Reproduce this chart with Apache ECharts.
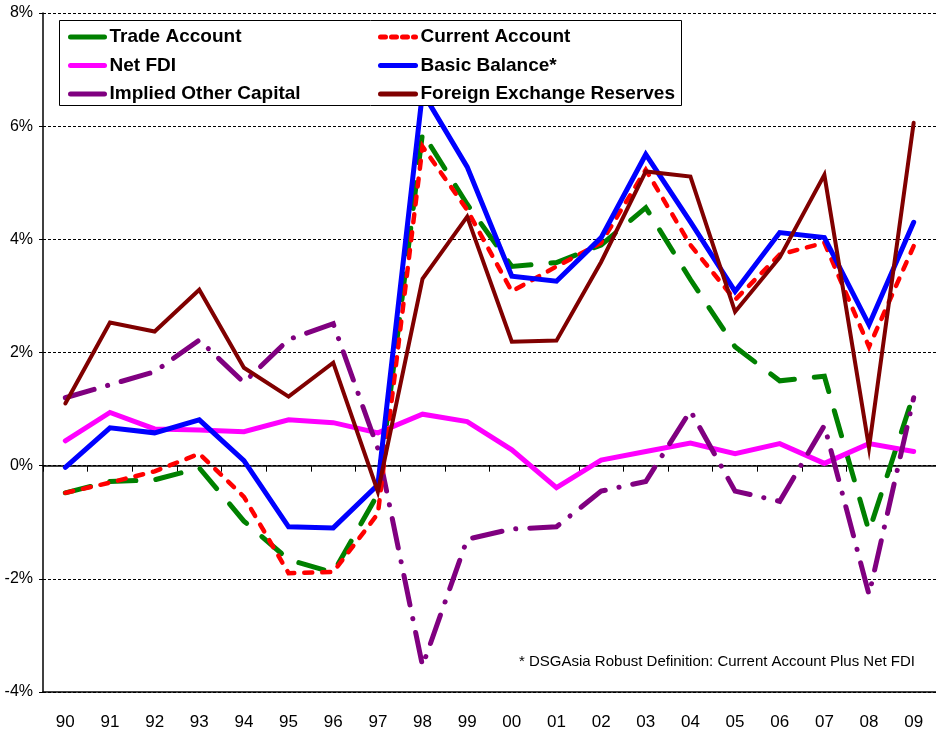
<!DOCTYPE html>
<html>
<head>
<meta charset="utf-8">
<script src="https://cdn.jsdelivr.net/npm/echarts@6/dist/echarts.min.js"></script>
<style>html,body{margin:0;padding:0;background:#fff}#c{width:936px;height:733px}</style>
</head>
<body>
<div id="c"></div>
<script>
const years = ['90','91','92','93','94','95','96','97','98','99','00','01','02','03','04','05','06','07','08','09'];
const tradeAccount   = [-0.48,-0.28,-0.25,-0.04,-0.98,-1.66,-1.89,-0.5,5.88,4.62,3.52,3.59,3.9,4.56,3.29,2.1,1.5,1.58,-1.16,1.26];
const currentAccount = [-0.48,-0.3,-0.1,0.21,-0.55,-1.9,-1.88,-0.85,5.64,4.52,3.08,3.52,3.94,5.23,3.9,2.93,3.73,3.94,2.1,3.88];
const netFDI         = [0.44,0.94,0.65,0.63,0.6,0.81,0.76,0.58,0.91,0.78,0.28,-0.39,0.1,0.25,0.4,0.21,0.39,0.04,0.39,0.25];
const basicBalance   = [-0.03,0.67,0.58,0.81,0.09,-1.08,-1.1,-0.34,6.6,5.28,3.35,3.26,4.03,5.5,4.31,3.08,4.12,4.03,2.49,4.3];
const impliedOther   = [1.2,1.43,1.66,2.22,1.47,2.23,2.51,0.3,-3.54,-1.3,-1.12,-1.08,-0.45,-0.28,0.97,-0.45,-0.63,0.71,-2.28,1.2];
const fxReserves     = [1.1,2.53,2.37,3.11,1.73,1.22,1.82,-0.46,3.3,4.4,2.19,2.21,3.6,5.2,5.11,2.72,3.68,5.14,0.32,6.06];
const yTicks = {min:-4, max:8, step:2};
const footnote = '* DSGAsia Robust Definition: Current Account Plus Net FDI';

const FONT = "'Liberation Sans Narrow','Arial Narrow','Liberation Sans',Arial,sans-serif";
const chart = echarts.init(document.getElementById('c'), null, {renderer:'canvas'});

function line(name, data, color, width, type, z) {
  return {
    name, type:'line', data, symbol:'none', showSymbol:false, z: z,
    lineStyle:{color, width, type: type || 'solid', cap:'round', join:'miter'},
    itemStyle:{color},
    emphasis:{disabled:true}
  };
}
function legItem(name, type) {
  return {name, lineStyle:{type: type, width:5, cap:'round'},
          itemStyle:{color:'rgba(0,0,0,0)', borderWidth:0, opacity:0}};
}
const legText = {fontFamily:FONT, fontWeight:'bold', fontSize:19, color:'#000', lineHeight:22};

chart.setOption({
  animation:false,
  backgroundColor:'#fff',
  grid:{left:43, right:0, top:13, bottom:41, containLabel:false},
  legend:[
    {data:[legItem('Trade Account','solid'), legItem('Net FDI','solid'), legItem('Implied Other Capital','solid')],
     orient:'vertical', left:63, top:21, z:12,
     itemWidth:34, itemHeight:14, itemGap:6.5, selectedMode:false, textStyle:legText},
    {data:[legItem('Current Account',[5,6]), legItem('Basic Balance*','solid'), legItem('Foreign Exchange Reserves','solid')],
     orient:'vertical', left:373, top:21, z:12,
     itemWidth:35, itemHeight:14, itemGap:6.5, selectedMode:false, textStyle:legText}
  ],
  graphic:[
    {type:'rect', z:10, shape:{x:59.5, y:20.5, width:622, height:85}, style:{fill:'#fff', stroke:'#000', lineWidth:1}},
    {type:'text', z:10, x:915, y:662, style:{text:footnote, align:'right', verticalAlign:'middle', font:'15px '+FONT, fill:'#000'}}
  ],
  xAxis:[
    {type:'category', data:years, position:'bottom', boundaryGap:true,
     axisLine:{onZero:false, lineStyle:{color:'#000', width:1.5}},
     axisTick:{show:false},
     axisLabel:{fontFamily:FONT, fontSize:17, color:'#000', margin:22},
     splitLine:{show:false}},
    {type:'category', data:years, position:'top', boundaryGap:true,
     axisLine:{onZero:true, lineStyle:{color:'#000', width:1.5}},
     axisTick:{show:true, inside:true, length:6, lineStyle:{color:'#000', width:1}},
     axisLabel:{show:false}, splitLine:{show:false}}
  ],
  yAxis:{type:'value', min:yTicks.min, max:yTicks.max, interval:yTicks.step,
    axisLine:{show:true, lineStyle:{color:'#000', width:1.5}},
    axisTick:{show:true, length:4, lineStyle:{color:'#000'}},
    axisLabel:{formatter:'{value}%', fontFamily:FONT, fontSize:16, color:'#000', margin:10},
    splitLine:{show:true, lineStyle:{color:'#000', width:1, type:[3,2]}}
  },
  series:[
    line('Trade Account', tradeAccount, '#008000', 5, [26,20], 3),
    line('Current Account', currentAccount, '#FF0000', 4.5, [8,10], 4),
    line('Net FDI', netFDI, '#FF00FF', 5, 'solid', 3),
    line('Basic Balance*', basicBalance, '#0000FF', 5, 'solid', 5),
    line('Implied Other Capital', impliedOther, '#800080', 5, [30,14,0.1,14], 3),
    line('Foreign Exchange Reserves', fxReserves, '#800000', 4, 'solid', 5)
  ]
});
</script>
</body>
</html>
